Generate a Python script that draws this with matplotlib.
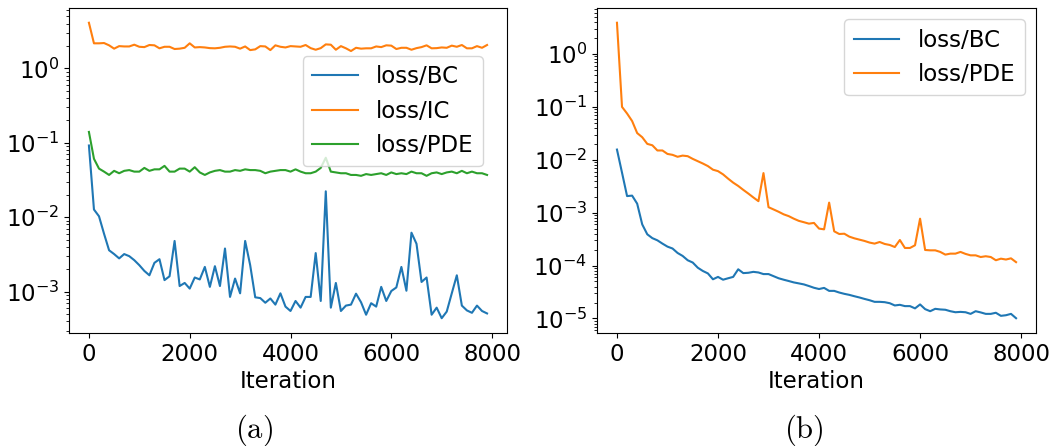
import numpy as np
import matplotlib
matplotlib.use("Agg")
import matplotlib.pyplot as plt

# iterations, logged every 100 steps
iters = np.arange(0, 8000, 100)

# (a) three-term loss
bc_a = [0.092, 0.0127, 0.0103, 0.0060, 0.0036, 0.0032, 0.0028, 0.0032, 0.0030, 0.00265,
        0.00227, 0.0019, 0.00166, 0.00244, 0.00273, 0.00143, 0.00161, 0.0048, 0.00119, 0.00131,
        0.0011, 0.00155, 0.00146, 0.00215, 0.00116, 0.0022, 0.00119, 0.0038, 0.00085, 0.0015,
        0.00095, 0.0048, 0.00227, 0.00084, 0.00082, 0.00071, 0.00081, 0.00067, 0.00095, 0.00063,
        0.00055, 0.00075, 0.00061, 0.00085, 0.00085, 0.0033, 0.00075, 0.0223, 0.00061, 0.00131,
        0.00055, 0.00065, 0.00067, 0.00094, 0.00072, 0.00049, 0.0007, 0.00063, 0.00116, 0.00075,
        0.00102, 0.00114, 0.00215, 0.00103, 0.0062, 0.0044, 0.00135, 0.00155, 0.00049, 0.00061,
        0.00044, 0.00054, 0.00095, 0.00166, 0.00065, 0.00056, 0.00052, 0.00065, 0.00055, 0.00051]
ic_a = [4.1, 2.17, 2.17, 2.19, 2.04, 1.84, 1.99, 1.97, 1.97, 2.08,
        1.95, 1.93, 2.06, 2.04, 1.86, 1.95, 1.95, 1.82, 1.84, 1.89,
        2.17, 1.91, 1.93, 1.91, 1.87, 1.86, 1.89, 1.95, 1.97, 1.95,
        1.84, 1.97, 1.76, 1.80, 1.99, 1.97, 1.76, 2.04, 1.95, 1.91,
        1.99, 1.97, 1.95, 2.06, 1.87, 1.78, 1.87, 2.10, 2.08, 1.78,
        1.99, 1.86, 1.71, 1.89, 1.84, 1.86, 1.86, 1.97, 1.93, 2.04,
        2.02, 1.82, 1.89, 1.89, 1.78, 1.87, 1.93, 2.04, 1.86, 1.87,
        1.91, 1.89, 2.02, 1.95, 2.06, 1.86, 1.86, 1.99, 1.89, 2.06]
pde_a = [0.14, 0.061, 0.045, 0.041, 0.037, 0.042, 0.039, 0.042, 0.043, 0.041,
         0.041, 0.046, 0.042, 0.044, 0.044, 0.049, 0.041, 0.041, 0.045, 0.045,
         0.041, 0.047, 0.040, 0.037, 0.040, 0.042, 0.043, 0.041, 0.041, 0.043,
         0.042, 0.044, 0.043, 0.043, 0.042, 0.039, 0.041, 0.042, 0.043, 0.043,
         0.041, 0.044, 0.041, 0.039, 0.039, 0.041, 0.046, 0.063, 0.041, 0.040,
         0.039, 0.039, 0.037, 0.037, 0.036, 0.038, 0.037, 0.038, 0.039, 0.037,
         0.040, 0.038, 0.039, 0.038, 0.041, 0.039, 0.039, 0.036, 0.039, 0.040,
         0.038, 0.040, 0.041, 0.039, 0.042, 0.039, 0.041, 0.039, 0.039, 0.037]

# (b) two-term loss
bc_b = [0.0156, 0.0057, 0.00206, 0.0021, 0.00148, 0.0006, 0.00039, 0.00033, 0.0003, 0.00026,
        0.000228, 0.00021, 0.000173, 0.000152, 0.000126, 0.000114, 9.1e-5, 7.9e-5, 7.1e-5, 5.5e-5,
        6.1e-5, 5.4e-5, 5.75e-5, 6.1e-5, 8.5e-5, 7.2e-5, 7.3e-5, 7.6e-5, 7.4e-5, 6.9e-5,
        6.9e-5, 6.3e-5, 5.75e-5, 5.4e-5, 5.1e-5, 4.8e-5, 4.6e-5, 4.4e-5, 4.1e-5, 3.8e-5,
        3.6e-5, 3.78e-5, 3.32e-5, 3.32e-5, 3.09e-5, 2.92e-5, 2.79e-5, 2.63e-5, 2.49e-5, 2.34e-5,
        2.21e-5, 2.06e-5, 2.06e-5, 2.03e-5, 1.94e-5, 1.76e-5, 1.81e-5, 1.71e-5, 1.71e-5, 1.55e-5,
        1.84e-5, 1.50e-5, 1.37e-5, 1.52e-5, 1.48e-5, 1.46e-5, 1.37e-5, 1.31e-5, 1.33e-5, 1.31e-5,
        1.22e-5, 1.37e-5, 1.30e-5, 1.22e-5, 1.22e-5, 1.28e-5, 1.12e-5, 1.15e-5, 1.22e-5, 1.01e-5]
pde_b = [3.9, 0.1, 0.075, 0.054, 0.032, 0.0267, 0.020, 0.0188, 0.015, 0.015,
         0.0129, 0.0124, 0.0114, 0.012, 0.0117, 0.0104, 0.0094, 0.0085, 0.0076, 0.0065,
         0.0061, 0.0053, 0.0044, 0.0037, 0.0032, 0.0027, 0.0023, 0.00194, 0.00165, 0.0056,
         0.00127, 0.00115, 0.00104, 0.00093, 0.00086, 0.00077, 0.0007, 0.00066, 0.00062, 0.00064,
         0.0005, 4.84e-4, 1.55e-3, 4.44e-4, 3.95e-4, 4.0e-4, 3.52e-4, 3.27e-4, 3.09e-4, 2.92e-4,
         2.72e-4, 2.60e-4, 2.79e-4, 2.56e-4, 2.45e-4, 2.24e-4, 3.04e-4, 2.15e-4, 2.15e-4, 2.42e-4,
         7.7e-4, 1.97e-4, 1.94e-4, 1.94e-4, 1.81e-4, 1.61e-4, 1.68e-4, 1.68e-4, 1.81e-4, 1.66e-4,
         1.56e-4, 1.56e-4, 1.45e-4, 1.50e-4, 1.45e-4, 1.26e-4, 1.35e-4, 1.30e-4, 1.37e-4, 1.16e-4]

plt.rcParams['font.size'] = 16.5
plt.rcParams['mathtext.fontset'] = 'dejavusans'

fig = plt.figure(figsize=(10.52, 4.46), dpi=100)
ax1 = fig.add_axes([0.0656, 0.2534, 0.4163, 0.7287])
ax2 = fig.add_axes([0.5675, 0.2534, 0.4173, 0.7287])

ax1.plot(iters, bc_a, label='loss/BC')
ax1.plot(iters, ic_a, label='loss/IC')
ax1.plot(iters, pde_a, label='loss/PDE')
ax1.set_yscale('log')
ax1.set_xlabel('Iteration', labelpad=3)
ax1.legend(loc='upper right', bbox_to_anchor=(0.945, 0.852), borderaxespad=0)

ax2.plot(iters, bc_b, label='loss/BC')
ax2.plot(iters, pde_b, label='loss/PDE')
ax2.set_yscale('log')
ax2.set_xlabel('Iteration', labelpad=3)
ax2.legend(loc='upper right')

for ax in (ax1, ax2):
    ax.set_xticks([0, 2000, 4000, 6000, 8000])

fig.text(254 / 1052, 1 - 430 / 446, r'$\mathrm{(a)}$', ha='center', va='center',
         fontsize=22, math_fontfamily='cm')
fig.text(804 / 1052, 1 - 430 / 446, r'$\mathrm{(b)}$', ha='center', va='center',
         fontsize=22, math_fontfamily='cm')

fig.savefig('out.png', dpi=100)
